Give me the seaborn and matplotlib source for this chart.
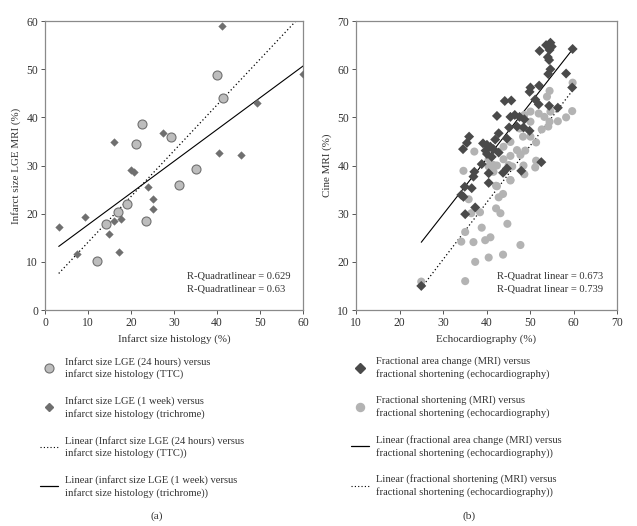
import numpy as np
import pandas as pd
import seaborn as sns
import matplotlib
matplotlib.use("Agg")
import matplotlib.pyplot as plt
from matplotlib.lines import Line2D

# ---- panel (a): infarct size ----
ttc_histology = [40.0, 41.4, 22.6, 21.1, 29.3, 35.2, 31.1, 17.1, 19.1, 14.2, 23.4, 12.1]
ttc_lge = [48.7, 44.1, 38.7, 34.5, 36.0, 29.2, 25.9, 20.3, 22.1, 17.9, 18.4, 10.2]

tri_histology = [41.2, 60.1, 49.4, 16.1, 27.5, 40.4, 45.6, 20.0, 20.6, 23.9,
                 25.2, 25.2, 9.2, 3.2, 16.0, 17.7, 14.8, 7.4, 17.2]
tri_lge = [59.0, 49.0, 43.0, 34.8, 36.7, 32.7, 32.1, 29.0, 28.6, 25.5,
           23.0, 20.9, 19.4, 17.2, 18.5, 18.9, 15.7, 11.7, 12.0]

r2_a = ["R-Quadratlinear = 0.629", "R-Quadratlinear = 0.63"]

# ---- panel (b): cine MRI vs echocardiography ----
fac_echo = [59.8, 54.7, 53.7, 55.0, 54.5, 52.2, 54.1, 54.4, 54.7, 54.2,
            58.3, 59.7, 52.1, 50.1, 49.9, 51.2, 54.4, 56.4, 52.0, 44.2,
            45.7, 42.4, 45.5, 46.5, 47.6, 48.7, 45.2, 47.0, 48.5, 49.9,
            42.8, 42.0, 44.7, 36.0, 35.5, 34.6, 39.2, 40.1, 40.9, 39.8,
            40.1, 41.6, 42.8, 41.2, 38.9, 37.2, 37.0, 40.5, 43.8, 44.7,
            48.0, 52.6, 34.7, 35.0, 36.6, 34.2, 37.4, 35.1, 40.5, 25.0]
fac_mri = [64.2, 65.5, 65.0, 64.7, 64.0, 63.8, 62.5, 61.9, 60.0, 59.0,
           59.1, 56.2, 56.6, 56.2, 55.3, 53.7, 52.4, 52.0, 52.7, 53.4,
           53.5, 50.3, 50.1, 50.5, 50.1, 49.6, 47.9, 48.1, 47.9, 47.2,
           46.7, 45.4, 45.6, 46.0, 44.7, 43.4, 44.6, 44.3, 43.9, 43.1,
           42.4, 43.4, 42.7, 41.8, 40.3, 38.7, 37.7, 38.4, 38.5, 39.4,
           38.9, 40.7, 33.5, 35.6, 35.3, 33.9, 31.3, 29.9, 36.4, 15.0]

fs_echo = [59.8, 59.7, 58.3, 56.4, 54.5, 53.9, 54.7, 53.3, 54.5, 54.2,
           52.7, 50.1, 52.0, 48.7, 50.1, 47.6, 48.4, 50.1, 51.4, 45.5,
           43.9, 47.0, 48.9, 47.8, 45.5, 45.1, 45.9, 48.5, 48.7, 51.4,
           51.2, 37.2, 34.7, 41.6, 42.4, 40.5, 43.9, 40.5, 41.6, 45.5,
           42.4, 43.8, 42.8, 35.9, 36.5, 38.5, 42.2, 43.2, 44.8, 38.9,
           35.1, 40.9, 39.7, 37.0, 34.2, 47.8, 43.8, 40.5, 37.4, 35.1,
           25.0, 42.2, 45.5]
fs_mri = [57.2, 51.3, 50.0, 49.2, 55.5, 54.3, 51.2, 50.1, 49.1, 48.1,
          47.5, 51.2, 50.8, 50.5, 49.1, 47.7, 46.0, 46.0, 44.8, 44.9,
          43.9, 43.2, 43.1, 42.2, 42.0, 40.1, 39.8, 40.0, 38.2, 41.0,
          39.6, 42.9, 38.9, 40.1, 40.0, 41.3, 41.3, 39.8, 38.7, 37.0,
          35.7, 34.1, 33.4, 33.0, 30.1, 30.3, 31.1, 30.1, 27.9, 27.1,
          26.2, 25.1, 24.5, 24.1, 24.2, 23.5, 21.5, 20.9, 20.0, 16.0,
          15.9, 35.8, 36.9]

r2_b = ["R-Quadrat linear = 0.673", "R-Quadrat linear = 0.739"]

sns.set_style("ticks")
plt.rcParams["font.family"] = ["Liberation Serif", "DejaVu Serif"]
plt.rcParams["font.size"] = 7.6

fig = plt.figure(figsize=(6.37, 5.26), dpi=100)
ax_a = fig.add_axes([0.0706, 0.4106, 0.405, 0.5494])
ax_b = fig.add_axes([0.5589, 0.4106, 0.4097, 0.5494])

light = "#bdbdbd"
mid = "#6f6f6f"
dark = "#4a4a4a"
txt = "#333333"
fs = 7.6
tick_fs = 8.4


def fit_line(ax, x, y, xr, ls):
    slope, icpt = np.polyfit(x, y, 1)
    xs = np.array(xr)
    sns.lineplot(x=xs, y=slope * xs + icpt, ax=ax, color="black",
                 linestyle=ls, linewidth=0.8 if ls == "-" else 0.9)


def style_axes(ax):
    for s in ax.spines.values():
        s.set_color("#8a8a8a")
        s.set_linewidth(0.9)
    ax.tick_params(direction="out", length=3, width=0.7, color="#555555",
                   labelsize=tick_fs, pad=2, colors=txt)


# ---- panel (a)
da1 = pd.DataFrame({"x": ttc_histology, "y": ttc_lge})
da2 = pd.DataFrame({"x": tri_histology, "y": tri_lge})
sns.scatterplot(data=da1, x="x", y="y", ax=ax_a, marker="o", s=42,
                color=light, edgecolor="#707070", linewidth=0.8, zorder=3)
sns.scatterplot(data=da2, x="x", y="y", ax=ax_a, marker="D", s=15,
                color=mid, edgecolor=mid, linewidth=0.3, zorder=3)
xr_a = [min(ttc_histology + tri_histology), max(ttc_histology + tri_histology)]
fit_line(ax_a, ttc_histology, ttc_lge, xr_a, (0, (1, 2)))
fit_line(ax_a, tri_histology, tri_lge, xr_a, "-")
ax_a.set_xlim(0, 60)
ax_a.set_ylim(0, 60)
ax_a.set_xticks(range(0, 61, 10))
ax_a.set_yticks(range(0, 61, 10))
ax_a.set_xlabel("Infarct size histology (%)", fontsize=fs + 0.3, color=txt, labelpad=4)
ax_a.set_ylabel("Infarct size LGE MRI (%)", fontsize=fs + 0.3, color=txt, labelpad=4)
style_axes(ax_a)
ax_a.text(0.552, 0.095, r2_a[0] + "\n" + r2_a[1], transform=ax_a.transAxes,
          fontsize=fs, color=txt, va="center", linespacing=1.6)

# ---- panel (b)
db1 = pd.DataFrame({"x": fac_echo, "y": fac_mri})
db2 = pd.DataFrame({"x": fs_echo, "y": fs_mri})
sns.scatterplot(data=db2, x="x", y="y", ax=ax_b, marker="o", s=34,
                color="#b3b3b3", edgecolor="none", zorder=3)
sns.scatterplot(data=db1, x="x", y="y", ax=ax_b, marker="D", s=26,
                color=dark, edgecolor="none", zorder=4)
xr_b = [min(fac_echo + fs_echo), max(fac_echo + fs_echo)]
fit_line(ax_b, fac_echo, fac_mri, xr_b, "-")
fit_line(ax_b, fs_echo, fs_mri, xr_b, (0, (1, 2)))
ax_b.set_xlim(10, 70)
ax_b.set_ylim(10, 70)
ax_b.set_xticks(range(10, 71, 10))
ax_b.set_yticks(range(10, 71, 10))
ax_b.set_xlabel("Echocardiography (%)", fontsize=fs + 0.3, color=txt, labelpad=4)
ax_b.set_ylabel("Cine MRI (%)", fontsize=fs + 0.3, color=txt, labelpad=4)
style_axes(ax_b)
ax_b.text(0.54, 0.095, r2_b[0] + "\n" + r2_b[1], transform=ax_b.transAxes,
          fontsize=fs, color=txt, va="center", linespacing=1.6)

# ---- legends below each panel
leg_a_labels = [
    "Infarct size LGE (24 hours) versus\ninfarct size histology (TTC)",
    "Infarct size LGE (1 week) versus\ninfarct size histology (trichrome)",
    "Linear (Infarct size LGE (24 hours) versus\ninfarct size histology (TTC))",
    "Linear (infarct size LGE (1 week) versus\ninfarct size histology (trichrome))",
]
leg_b_labels = [
    "Fractional area change (MRI) versus\nfractional shortening (echocardiography)",
    "Fractional shortening (MRI) versus\nfractional shortening (echocardiography)",
    "Linear (fractional area change (MRI) versus\nfractional shortening (echocardiography))",
    "Linear (fractional shortening (MRI) versus\nfractional shortening (echocardiography))",
]
h_a = [
    Line2D([], [], marker="o", ls="none", ms=6.5, mfc=light, mec="#707070", mew=0.8),
    Line2D([], [], marker="D", ls="none", ms=3.8, mfc=mid, mec=mid),
    Line2D([], [], color="black", ls=(0, (1, 2)), lw=0.8),
    Line2D([], [], color="black", ls="-", lw=0.9),
]
h_b = [
    Line2D([], [], marker="D", ls="none", ms=5, mfc=dark, mec=dark),
    Line2D([], [], marker="o", ls="none", ms=5.8, mfc="#b3b3b3", mec="#b3b3b3"),
    Line2D([], [], color="black", ls="-", lw=0.9),
    Line2D([], [], color="black", ls=(0, (1, 2)), lw=0.8),
]
leg_kw = dict(loc="upper left", frameon=False, fontsize=fs, labelspacing=1.6,
              handlelength=1.7, handletextpad=0.65, borderpad=0,
              borderaxespad=0, labelcolor=txt)
leg_a = fig.legend(h_a, leg_a_labels, bbox_to_anchor=(0.063, 0.322), **leg_kw)
leg_b = fig.legend(h_b, leg_b_labels, bbox_to_anchor=(0.551, 0.322), **leg_kw)
for leg in (leg_a, leg_b):
    for t in leg.get_texts():
        t.set_linespacing(1.35)

fig.text(0.246, 0.014, "(a)", ha="center", fontsize=fs + 0.6, color=txt)
fig.text(0.736, 0.014, "(b)", ha="center", fontsize=fs + 0.6, color=txt)

fig.savefig("out.png", dpi=100)
